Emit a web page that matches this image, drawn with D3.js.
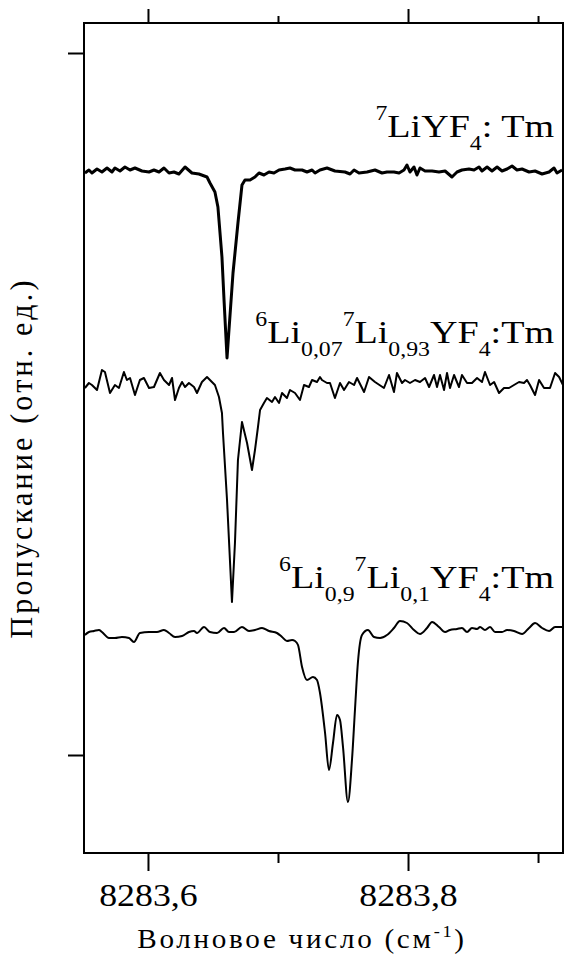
<!DOCTYPE html>
<html>
<head>
<meta charset="utf-8">
<script src="https://cdn.jsdelivr.net/npm/d3@7"></script>
</head>
<body style="margin:0;background:#fff">
<svg id="chart" width="565" height="968"></svg>
<script>
// wavenumber (cm-1) and transmission (arb. units, offset per sample)
const nu1 = [8283.5515,8283.5546,8283.5569,8283.5608,8283.5646,8283.5685,8283.5723,8283.5746,8283.5785,8283.5823,
  8283.5862,8283.5900,8283.5954,8283.6008,8283.6046,8283.6085,8283.6123,8283.6162,8283.6200,8283.6238,
  8283.6285,8283.6338,8283.6392,8283.6454,8283.6477,8283.6515,8283.6538,8283.6569,8283.6585,8283.6608,
  8283.6615,8283.6623,8283.6654,8283.6692,8283.6723,8283.6746,8283.6785,8283.6823,8283.6854,8283.6892,
  8283.6931,8283.6969,8283.7008,8283.7054,8283.7092,8283.7131,8283.7185,8283.7223,8283.7262,8283.7285,
  8283.7323,8283.7377,8283.7438,8283.7515,8283.7554,8283.7585,8283.7623,8283.7685,8283.7746,8283.7800,
  8283.7838,8283.7892,8283.7931,8283.7969,8283.7992,8283.8015,8283.8046,8283.8069,8283.8092,8283.8131,
  8283.8185,8283.8238,8283.8285,8283.8338,8283.8377,8283.8415,8283.8469,8283.8508,8283.8546,8283.8569,
  8283.8608,8283.8646,8283.8685,8283.8723,8283.8762,8283.8800,8283.8838,8283.8877,8283.8931,8283.8977,
  8283.9031,8283.9085,8283.9123,8283.9146,8283.9185];
const t1 = [5.82,5.85,5.82,5.86,5.83,5.87,5.83,5.87,5.84,5.88,
  5.85,5.87,5.84,5.83,5.85,5.83,5.87,5.82,5.83,5.81,
  5.88,5.82,5.81,5.78,5.72,5.63,5.48,4.98,4.55,3.97,
  4.10,4.25,4.82,5.32,5.70,5.75,5.75,5.78,5.82,5.80,
  5.83,5.82,5.85,5.86,5.87,5.85,5.85,5.83,5.85,5.82,
  5.85,5.87,5.84,5.83,5.81,5.85,5.82,5.83,5.85,5.82,
  5.83,5.83,5.82,5.85,5.90,5.83,5.88,5.80,5.87,5.84,
  5.84,5.83,5.84,5.78,5.83,5.85,5.86,5.85,5.88,5.84,
  5.88,5.84,5.88,5.84,5.86,5.89,5.85,5.86,5.83,5.84,
  5.81,5.83,5.87,5.82,5.85];

const nu2 = [8283.5515,8283.5546,8283.5569,8283.5608,8283.5646,8283.5669,8283.5708,8283.5746,8283.5777,8283.5815,
  8283.5838,8283.5862,8283.5900,8283.5938,8283.5969,8283.6008,8283.6046,8283.6092,8283.6123,8283.6162,
  8283.6185,8283.6208,8283.6238,8283.6262,8283.6285,8283.6315,8283.6354,8283.6377,8283.6415,8283.6454,
  8283.6492,8283.6515,8283.6546,8283.6569,8283.6577,8283.6608,8283.6646,8283.6669,8283.6692,8283.6723,
  8283.6762,8283.6800,8283.6823,8283.6846,8283.6862,8283.6892,8283.6915,8283.6954,8283.6977,8283.7008,
  8283.7031,8283.7069,8283.7092,8283.7131,8283.7169,8283.7200,8283.7238,8283.7262,8283.7300,8283.7323,
  8283.7338,8283.7377,8283.7400,8283.7438,8283.7477,8283.7508,8283.7546,8283.7585,8283.7608,8283.7662,
  8283.7700,8283.7746,8283.7815,8283.7854,8283.7892,8283.7915,8283.7954,8283.7977,8283.8015,8283.8054,
  8283.8092,8283.8131,8283.8162,8283.8200,8283.8223,8283.8246,8283.8277,8283.8300,8283.8323,8283.8354,
  8283.8392,8283.8415,8283.8454,8283.8492,8283.8531,8283.8569,8283.8592,8283.8631,8283.8662,8283.8700,
  8283.8738,8283.8777,8283.8815,8283.8854,8283.8892,8283.8915,8283.8938,8283.8977,8283.9008,8283.9046,
  8283.9092,8283.9131,8283.9162,8283.9192];
const t2 = [3.67,3.72,3.70,3.65,3.85,3.83,3.62,3.70,3.67,3.83,
  3.75,3.77,3.60,3.75,3.77,3.67,3.68,3.82,3.75,3.70,
  3.77,3.55,3.67,3.73,3.68,3.72,3.68,3.62,3.73,3.78,
  3.73,3.70,3.58,3.42,3.22,2.55,1.53,2.12,2.95,3.33,
  3.12,2.85,3.05,3.28,3.45,3.52,3.57,3.53,3.58,3.52,
  3.62,3.57,3.65,3.62,3.55,3.70,3.68,3.75,3.73,3.78,
  3.75,3.72,3.72,3.57,3.72,3.65,3.73,3.70,3.77,3.63,
  3.78,3.73,3.67,3.80,3.63,3.82,3.72,3.75,3.72,3.75,
  3.73,3.77,3.68,3.80,3.68,3.80,3.65,3.82,3.67,3.80,
  3.68,3.80,3.72,3.72,3.77,3.73,3.83,3.70,3.73,3.62,
  3.67,3.67,3.70,3.73,3.72,3.75,3.70,3.60,3.75,3.67,
  3.67,3.82,3.78,3.70];

const nu3 = [8283.5515,8283.5546,8283.5585,8283.5623,8283.5646,8283.5700,8283.5746,8283.5800,8283.5854,8283.5892,
  8283.5938,8283.6008,8283.6069,8283.6123,8283.6162,8283.6208,8283.6262,8283.6315,8283.6354,8283.6377,
  8283.6431,8283.6477,8283.6531,8283.6585,8283.6623,8283.6662,8283.6723,8283.6777,8283.6823,8283.6877,
  8283.6931,8283.6992,8283.7031,8283.7069,8283.7108,8283.7131,8283.7154,8283.7185,8283.7223,8283.7269,
  8283.7300,8283.7323,8283.7362,8283.7392,8283.7423,8283.7454,8283.7477,8283.7500,8283.7538,8283.7569,
  8283.7592,8283.7615,8283.7646,8283.7692,8283.7738,8283.7785,8283.7838,8283.7892,8283.7938,8283.7992,
  8283.8046,8283.8092,8283.8146,8283.8185,8283.8238,8283.8285,8283.8323,8283.8377,8283.8415,8283.8454,
  8283.8492,8283.8531,8283.8554,8283.8592,8283.8631,8283.8669,8283.8723,8283.8762,8283.8815,8283.8877,
  8283.8931,8283.8977,8283.9031,8283.9085,8283.9131,8283.9192];
const t3 = [1.20,1.23,1.24,1.25,1.23,1.17,1.17,1.18,1.17,1.13,
  1.22,1.23,1.23,1.25,1.22,1.18,1.19,1.23,1.24,1.22,
  1.28,1.23,1.22,1.27,1.23,1.23,1.28,1.24,1.25,1.27,
  1.24,1.22,1.18,1.14,1.15,1.14,1.10,0.88,0.75,0.78,
  0.75,0.62,0.22,-0.15,0.12,0.40,0.35,0.08,-0.47,-0.05,
  0.45,0.93,1.20,1.25,1.18,1.17,1.20,1.27,1.34,1.32,
  1.25,1.21,1.27,1.33,1.28,1.23,1.25,1.26,1.27,1.23,
  1.27,1.26,1.28,1.25,1.28,1.23,1.23,1.25,1.24,1.21,
  1.27,1.32,1.27,1.24,1.28,1.28];

const majorTicks = [8283.6, 8283.8];
const minorTicks = [8283.7, 8283.9];
const yTicks = [0, 7.02];

const xTitle = "Волновое число (см";
const yTitle = "Пропускание (отн. ед.)";

// labels: [text, role] pieces
const labels = [
  { y: 6.18, parts: [["7","sup"],["LiYF"],["4","sub"],[": Tm"]] },
  { y: 4.12, parts: [["6","sup"],["Li"],["0,07","sub"],["7","sup"],["Li"],["0,93","sub"],["YF"],["4","sub"],[":Tm"]] },
  { y: 1.67, parts: [["6","sup"],["Li"],["0,9","sub"],["7","sup"],["Li"],["0,1","sub"],["YF"],["4","sub"],[":Tm"]] }
];

const FONT = "'Liberation Serif', 'Times New Roman', Times, serif";

const margin = { top: 23, right: 2, bottom: 115, left: 84 },
    width = 565 - margin.left - margin.right,
    height = 968 - margin.top - margin.bottom;

const svg = d3.select("#chart");
const g = svg.append("g").attr("transform", "translate(" + margin.left + "," + margin.top + ")");

const x = d3.scaleLinear().domain([8283.5508, 8283.9192]).range([0, width]);
const y = d3.scaleLinear().domain([-0.98, 7.32]).range([height, 0]);

g.append("clipPath").attr("id", "clip")
  .append("rect").attr("width", width).attr("height", height);

const fmt = d => d3.format(".1f")(d).replace(".", ",");

// axes
function tickAxis(axisFn, values, size, labelled) {
  const a = axisFn(x).tickValues(values).tickSize(size).tickSizeOuter(0);
  return labelled ? a.tickFormat(fmt).tickPadding(12) : a.tickFormat("");
}

const xBottom = g.append("g").attr("transform", "translate(0," + height + ")");
xBottom.append("g").call(tickAxis(d3.axisBottom, majorTicks, 18, true));
xBottom.append("g").call(tickAxis(d3.axisBottom, minorTicks, 10, false));
const xTop = g.append("g");
xTop.append("g").call(tickAxis(d3.axisTop, majorTicks, 14, false));
xTop.append("g").call(tickAxis(d3.axisTop, minorTicks, 7, false));
g.append("g").call(d3.axisLeft(y).tickValues(yTicks).tickSize(16).tickSizeOuter(0).tickFormat(""));

g.selectAll(".domain").remove();
g.selectAll(".tick line").attr("stroke", "#000").attr("stroke-width", 2);
xBottom.selectAll(".tick text")
  .style("font-family", FONT)
  .style("font-size", "32px")
  .attr("fill", "#000")
  .attr("transform", "scale(1.12,1)");

// frame
g.append("rect").attr("width", width).attr("height", height)
  .attr("fill", "none").attr("stroke", "#000").attr("stroke-width", 2);

// traces
const series = [
  { nu: nu1, t: t1, w: 3, curve: d3.curveLinear },
  { nu: nu2, t: t2, w: 2, curve: d3.curveLinear },
  { nu: nu3, t: t3, w: 2, curve: d3.curveMonotoneX }
];
series.forEach(s => {
  const line = d3.line().x((d, i) => x(s.nu[i])).y(d => y(d)).curve(s.curve);
  g.append("path").datum(s.t)
    .attr("clip-path", "url(#clip)")
    .attr("fill", "none").attr("stroke", "#000")
    .attr("stroke-width", s.w).attr("stroke-linejoin", "round")
    .attr("d", line);
});

// sample labels
const shift = { sup: -17, sub: 13 };
labels.forEach(l => {
  const txt = g.append("text")
    .attr("text-anchor", "end")
    .attr("transform", "translate(" + (width - 9) + "," + y(l.y) + ") scale(1.19,1)")
    .style("font-family", FONT).style("font-size", "32px");
  let cur = 0;
  l.parts.forEach(p => {
    const off = p[1] ? shift[p[1]] : 0;
    txt.append("tspan").attr("dy", off - cur)
      .style("font-size", (p[1] ? 20 : 32) + "px").text(p[0]);
    cur = off;
  });
});

// axis titles
const xt = g.append("text")
  .attr("text-anchor", "middle")
  .attr("transform", "translate(" + (302 - margin.left) + "," + (948 - margin.top) + ") scale(1.08,1)")
  .style("font-family", FONT).style("font-size", "27px").style("letter-spacing", "2.5px");
xt.append("tspan").text(xTitle);
xt.append("tspan").attr("dy", -11).style("font-size", "17px").text("-1");
xt.append("tspan").attr("dy", 11).text(")");

g.append("text")
  .attr("text-anchor", "middle")
  .attr("transform", "translate(" + (32 - margin.left) + "," + (458 - margin.top) + ") rotate(-90) scale(1,1.06)")
  .style("font-family", FONT).style("font-size", "30px").style("letter-spacing", "3.2px")
  .text(yTitle);
</script>
</body>
</html>
